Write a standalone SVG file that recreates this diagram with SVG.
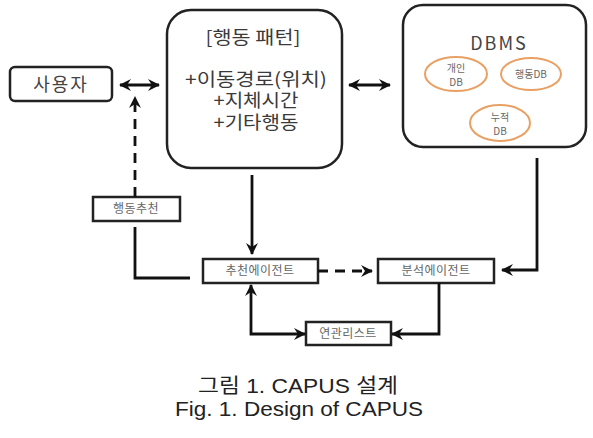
<svg xmlns="http://www.w3.org/2000/svg" width="593" height="438" viewBox="0 0 593 438">
<style>
.box{fill:#fff;stroke:#222;stroke-width:2.5}
.db{fill:none;stroke:#E9A064;stroke-width:2}
.ln{fill:none;stroke:#111;stroke-width:2.8}
.dash{stroke-dasharray:10,7}
.t{font-family:"Noto Sans CJK KR","Noto Sans",sans-serif;fill:#444;text-anchor:middle}
.p{font-size:18px;fill:#3a3a3a}
.s{font-size:12px;fill:#666;letter-spacing:0.5px}
.e{font-size:10px;fill:#666}
.cap{font-family:"Liberation Sans","Noto Sans CJK KR",sans-serif;fill:#222;text-anchor:middle}
</style>
<defs>
<marker id="ah" viewBox="0 0 12 12" refX="11" refY="6" markerWidth="12" markerHeight="12" markerUnits="userSpaceOnUse" orient="auto-start-reverse">
<path d="M0,0 L12,6 L0,12 L4,6 z" fill="#111"/>
</marker>
</defs>
<rect width="593" height="438" fill="#fff"/>
<g id="user"><rect class="box" x="10" y="67" width="102" height="34" rx="5"/><text class="t" x="61" y="91" font-size="18" letter-spacing="2">사용자</text></g>
<g id="pattern"><rect class="box" x="167" y="10" width="175" height="158" rx="24"/>
<text class="t p" x="253" y="44" textLength="95" lengthAdjust="spacingAndGlyphs">[행동 패턴]</text>
<text class="t p" x="256" y="86" textLength="142" lengthAdjust="spacingAndGlyphs">+이동경로(위치)</text>
<text class="t p" x="256" y="107" textLength="85" lengthAdjust="spacingAndGlyphs">+지체시간</text>
<text class="t p" x="256" y="129" textLength="85" lengthAdjust="spacingAndGlyphs">+기타행동</text></g>
<g id="dbms"><rect class="box" x="403" y="5" width="183" height="142" rx="20"/>
<text class="t" x="499" y="50" font-size="18" letter-spacing="2">DBMS</text>
<ellipse class="db" cx="456" cy="74" rx="31" ry="17"/><text class="t e" x="456" y="72">개인</text><text class="t e" x="456" y="86">DB</text>
<ellipse class="db" cx="531" cy="74" rx="30" ry="16"/><text class="t e" x="531" y="78">행동DB</text>
<ellipse class="db" cx="500" cy="123" rx="30" ry="18"/><text class="t e" x="500" y="121">누적</text><text class="t e" x="500" y="135">DB</text></g>
<g id="recommend"><rect class="box" x="93" y="197" width="87" height="24"/><text class="t s" x="136" y="213">행동추천</text></g>
<g id="recAgent"><rect class="box" x="203" y="259" width="115" height="24"/><text class="t s" x="260" y="275">추천에이전트</text></g>
<g id="anaAgent"><rect class="box" x="378" y="259" width="116" height="24"/><text class="t s" x="436" y="275">분석에이전트</text></g>
<g id="assocList"><rect class="box" x="306" y="322" width="85" height="23"/><text class="t s" x="348" y="338">연관리스트</text></g>
<g id="connectors">
<line class="ln" x1="120" y1="85" x2="159" y2="85" marker-start="url(#ah)" marker-end="url(#ah)"/>
<line class="ln" x1="349" y1="85" x2="390" y2="85" marker-start="url(#ah)" marker-end="url(#ah)"/>
<line class="ln" x1="252" y1="175" x2="252" y2="254" marker-end="url(#ah)"/>
<polyline class="ln" points="537,158 537,270 502,270" marker-end="url(#ah)"/>
<line class="ln dash" x1="318" y1="271" x2="372" y2="271" marker-end="url(#ah)"/>
<line class="ln dash" x1="135" y1="197" x2="135" y2="97" marker-end="url(#ah)"/>
<polyline class="ln" points="135,227 135,278 190,278"/>
<polyline class="ln" points="305,334 251,334 251,285" marker-start="url(#ah)" marker-end="url(#ah)"/>
<polyline class="ln" points="439,283 439,334 392,334" marker-end="url(#ah)"/>
</g>
<text class="cap" x="298" y="393" font-size="20" textLength="200" lengthAdjust="spacingAndGlyphs">그림 1. CAPUS 설계</text>
<text class="cap" x="299" y="416" font-size="20" textLength="248" lengthAdjust="spacingAndGlyphs">Fig. 1. Design of CAPUS</text>
</svg>
